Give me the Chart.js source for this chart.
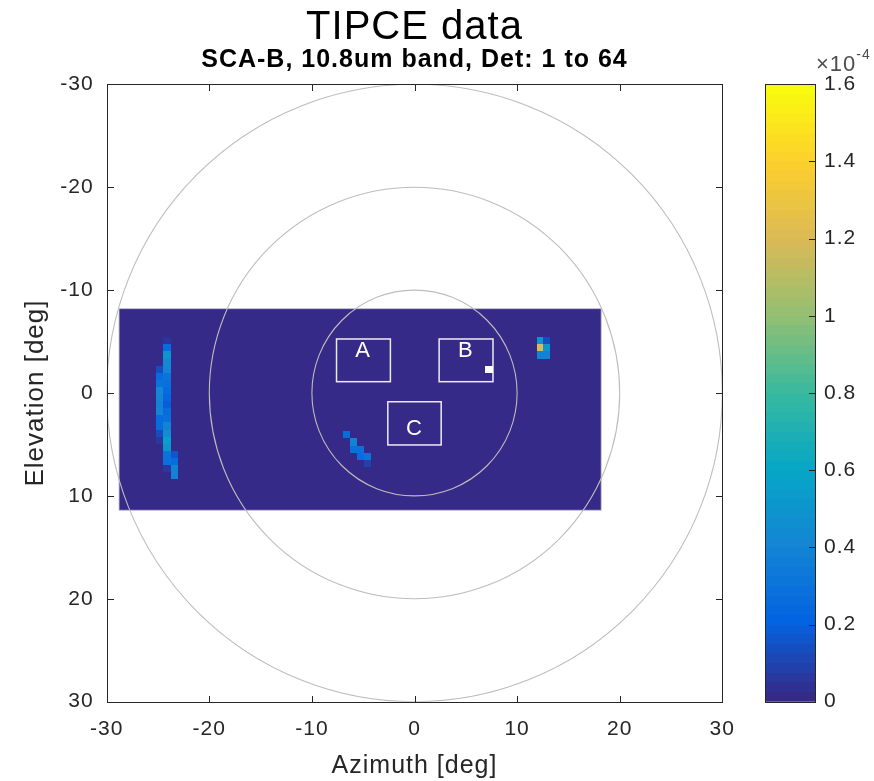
<!DOCTYPE html>
<html>
<head>
<meta charset="utf-8">
<title>TIPCE data</title>
<script src="https://cdn.jsdelivr.net/npm/chart.js@4.4.1/dist/chart.umd.min.js"></script>
<style>
  html, body { margin: 0; padding: 0; background: #fff; }
  #wrap { position: relative; width: 874px; height: 781px; overflow: hidden; }
  #main { position: absolute; left: 0; top: 0; }
  #bar { position: absolute; left: 740px; top: 0; }
</style>
</head>
<body>
<div id="wrap">
  <canvas id="main" width="874" height="781"></canvas>
  <canvas id="bar" width="134" height="781"></canvas>
</div>
<script>
// axis ticks in degrees
const axisTicks = [-30, -20, -10, 0, 10, 20, 30];

// colour scale, units of 1e-4
const colorMin = 0;
const colorMax = 1.6;
const colorTicks = [0, 0.2, 0.4, 0.6, 0.8, 1, 1.2, 1.4, 1.6];

// detector field of view (deg)
const fovAz = [-28.8, 18.2];
const fovEl = [-8.2, 11.4];
const cellSize = 0.69;

// non-zero cells: azimuth, elevation, value (x1e-4)
const cellAz = [
  // streak, left column
  -24.81, -24.81, -24.81, -24.81, -24.81, -24.81, -24.81, -24.81, -24.81, -24.81, -24.81,
  // streak, middle column
  -24.12, -24.12, -24.12, -24.12, -24.12, -24.12, -24.12, -24.12, -24.12, -24.12,
  -24.12, -24.12, -24.12, -24.12, -24.12, -24.12, -24.12, -24.12, -24.12,
  // streak, right column
  -23.43, -23.43, -23.43, -23.43,
  // diagonal near centre
  -6.63, -5.94, -5.94, -5.25, -5.25, -4.56, -4.56,
  // hot spot top right
  12.25, 12.9, 12.25, 12.9, 12.25, 12.9
];
const cellEl = [
  -2.31, -1.62, -0.93, -0.24, 0.45, 1.14, 1.83, 2.52, 3.21, 3.90, 4.59,
  -5.07, -4.38, -3.69, -3.00, -2.31, -1.62, -0.93, -0.24, 0.45, 1.14,
  1.83, 2.52, 3.21, 3.90, 4.59, 5.28, 5.97, 6.66, 7.35,
  5.97, 6.66, 7.35, 8.04,
  4.05, 4.76, 5.47, 5.47, 6.17, 6.17, 6.83,
  -5.07, -5.07, -4.38, -4.38, -3.69, -3.69
];
const cellVal = [
  0.12, 0.25, 0.30, 0.42, 0.40, 0.38, 0.40, 0.25, 0.25, 0.12, 0.05,
  0.04, 0.25, 0.50, 0.42, 0.40, 0.30, 0.28, 0.25, 0.22, 0.18,
  0.25, 0.28, 0.38, 0.45, 0.55, 0.50, 0.30, 0.28, 0.05,
  0.15, 0.25, 0.38, 0.38,
  0.25, 0.38, 0.28, 0.28, 0.25, 0.30, 0.08,
  0.50, 0.12, 1.20, 0.50, 0.38, 0.38
];

// masked (white) pixel
const maskAz = [7.26];
const maskEl = [-2.26];

// reference rings (deg)
const ringRadii = [10, 20, 30];

// labelled boxes
const boxNames = ['A', 'B', 'C'];
const boxAz0 = [-7.6, 2.4, -2.6];
const boxAz1 = [-2.35, 7.65, 2.6];
const boxEl0 = [-5.25, -5.25, 0.85];
const boxEl1 = [-1.1, -1.1, 5.05];
const labelAz = [-5.0, 5.0, 0.0];
const labelEl = [-4.1, -4.1, 3.5];

const parulaStops = ['#352a87', '#0363e1', '#1485d4', '#06a7c6', '#38b99e',
  '#92bf73', '#d9ba56', '#fcce2e', '#f9fb0e'];

function hexRgb(h) {
  return [parseInt(h.substr(1, 2), 16), parseInt(h.substr(3, 2), 16), parseInt(h.substr(5, 2), 16)];
}

function parula(t) {
  t = Math.max(0, Math.min(1, t));
  const p = t * (parulaStops.length - 1);
  const i = Math.min(Math.floor(p), parulaStops.length - 2);
  const f = p - i;
  const a = hexRgb(parulaStops[i]), b = hexRgb(parulaStops[i + 1]);
  const c = a.map((v, k) => Math.round(v + (b[k] - v) * f));
  return `rgb(${c[0]}, ${c[1]}, ${c[2]})`;
}

function valueColor(v) {
  return parula((v - colorMin) / (colorMax - colorMin));
}

Chart.defaults.font.family = "'Liberation Sans', Arial, Helvetica, sans-serif";
Chart.defaults.color = '#262626';

const axisColor = '#262626';

// matlab text is a little wider than Liberation Sans
const spacingPlugin = {
  id: 'spacing',
  beforeDraw(chart) { chart.ctx.letterSpacing = '1px'; },
  afterDraw(chart) { chart.ctx.letterSpacing = '0px'; }
};

// draws the image cells, boxes, rings and the axes box
const fieldPlugin = {
  id: 'field',
  beforeDatasetsDraw(chart) {
    const {ctx, chartArea: a, scales: {x, y}} = chart;
    ctx.save();
    ctx.beginPath();
    ctx.rect(a.left, a.top, a.width, a.height);
    ctx.clip();

    const fx0 = x.getPixelForValue(fovAz[0]), fx1 = x.getPixelForValue(fovAz[1]);
    const fy0 = y.getPixelForValue(fovEl[0]), fy1 = y.getPixelForValue(fovEl[1]);
    ctx.fillStyle = valueColor(0);
    ctx.fillRect(fx0, fy0, fx1 - fx0, fy1 - fy0);
    ctx.strokeStyle = 'rgba(200, 200, 210, 0.9)';
    ctx.lineWidth = 1;
    ctx.strokeRect(fx0, fy0, fx1 - fx0, fy1 - fy0);

    const w = Math.abs(x.getPixelForValue(cellSize) - x.getPixelForValue(0));
    const h = Math.abs(y.getPixelForValue(cellSize) - y.getPixelForValue(0));
    chart.data.datasets.forEach((ds, i) => {
      const meta = chart.getDatasetMeta(i);
      meta.data.forEach((pt, j) => {
        const x0 = Math.round(pt.x - w / 2), x1 = Math.round(pt.x + w / 2);
        const y0 = Math.round(pt.y - h / 2), y1 = Math.round(pt.y + h / 2);
        ctx.fillStyle = ds.cellColors[j];
        ctx.fillRect(x0, y0, x1 - x0, y1 - y0);
      });
    });
    ctx.restore();
  },
  afterDatasetsDraw(chart) {
    const {ctx, chartArea: a, scales: {x, y}} = chart;
    ctx.save();
    ctx.beginPath();
    ctx.rect(a.left, a.top, a.width, a.height);
    ctx.clip();

    // boxes A, B, C
    ctx.strokeStyle = 'rgba(245, 245, 250, 0.95)';
    ctx.lineWidth = 1.5;
    ctx.fillStyle = '#ffffff';
    ctx.font = "22px 'Liberation Sans', Arial, sans-serif";
    ctx.textAlign = 'center';
    ctx.textBaseline = 'middle';
    boxNames.forEach((name, i) => {
      const bx0 = x.getPixelForValue(boxAz0[i]), bx1 = x.getPixelForValue(boxAz1[i]);
      const by0 = y.getPixelForValue(boxEl0[i]), by1 = y.getPixelForValue(boxEl1[i]);
      ctx.strokeRect(bx0, by0, bx1 - bx0, by1 - by0);
      ctx.fillText(name, x.getPixelForValue(labelAz[i]), y.getPixelForValue(labelEl[i]));
    });

    // rings
    const cx = x.getPixelForValue(0), cy = y.getPixelForValue(0);
    ctx.strokeStyle = '#bdbdbd';
    ctx.lineWidth = 1.1;
    ringRadii.forEach(r => {
      const rx = Math.abs(x.getPixelForValue(r) - cx);
      const ry = Math.abs(y.getPixelForValue(r) - cy);
      ctx.beginPath();
      ctx.ellipse(cx, cy, rx, ry, 0, 0, Math.PI * 2);
      ctx.stroke();
    });
    ctx.restore();

    // axes box with inward ticks
    ctx.save();
    ctx.strokeStyle = axisColor;
    ctx.lineWidth = 1;
    const L = Math.round(a.left) + 0.5, R = Math.round(a.right) + 0.5;
    const T = Math.round(a.top) + 0.5, B = Math.round(a.bottom) + 0.5;
    ctx.strokeRect(L, T, R - L, B - T);
    const tl = 6.5;
    ctx.beginPath();
    axisTicks.forEach(v => {
      const px = Math.round(x.getPixelForValue(v)) + 0.5;
      ctx.moveTo(px, B); ctx.lineTo(px, B - tl);
      ctx.moveTo(px, T); ctx.lineTo(px, T + tl);
      const py = Math.round(y.getPixelForValue(v)) + 0.5;
      ctx.moveTo(L, py); ctx.lineTo(L + tl, py);
      ctx.moveTo(R, py); ctx.lineTo(R - tl, py);
    });
    ctx.stroke();
    ctx.restore();
  }
};

const fixedTicks = list => scale => { scale.ticks = list.map(v => ({value: v})); };

new Chart(document.getElementById('main'), {
  type: 'scatter',
  data: {
    datasets: [
      {
        label: 'cells',
        data: cellAz.map((az, i) => ({x: az, y: cellEl[i]})),
        cellColors: cellVal.map(valueColor),
        pointRadius: 0
      },
      {
        label: 'mask',
        data: maskAz.map((az, i) => ({x: az, y: maskEl[i]})),
        cellColors: maskAz.map(() => '#ffffff'),
        pointRadius: 0
      }
    ]
  },
  options: {
    responsive: false,
    animation: false,
    events: [],
    layout: { padding: { left: 0, right: 151.7, top: 0, bottom: 0 } },
    scales: {
      x: {
        type: 'linear',
        min: -30,
        max: 30,
        afterBuildTicks: fixedTicks(axisTicks),
        ticks: { font: { size: 21 }, color: axisColor, padding: 15, maxRotation: 0 },
        grid: { display: false, drawTicks: false },
        border: { display: false },
        title: { display: true, text: 'Azimuth [deg]', font: { size: 25 }, color: axisColor, padding: { top: 0, bottom: 0 } },
        afterFit: s => { s.height = 79.3; }
      },
      y: {
        type: 'linear',
        reverse: true,
        min: -30,
        max: 30,
        afterBuildTicks: fixedTicks(axisTicks),
        ticks: { font: { size: 21 }, color: axisColor, padding: 13 },
        grid: { display: false, drawTicks: false },
        border: { display: false },
        title: { display: true, text: 'Elevation [deg]', font: { size: 26 }, color: axisColor, padding: { top: 20, bottom: 0 } },
        afterFit: s => { s.width = 106.7; }
      }
    },
    plugins: {
      legend: { display: false },
      tooltip: { enabled: false },
      title: {
        display: true,
        text: 'TIPCE data',
        fullSize: false,
        color: '#000',
        font: { size: 40, weight: 'normal', lineHeight: 1 },
        padding: { top: 8, bottom: 0 }
      },
      subtitle: {
        display: true,
        text: 'SCA-B, 10.8um band, Det: 1 to 64',
        fullSize: false,
        color: '#000',
        font: { size: 25, weight: 'bold', lineHeight: 1 },
        padding: { top: 0, bottom: 11.3 }
      }
    }
  },
  plugins: [spacingPlugin, fieldPlugin]
});

// colour bar
function barGradient(chart) {
  const {ctx, chartArea, scales} = chart;
  if (!chartArea || !scales.y) return valueColor(colorMin);
  const y0 = scales.y.getPixelForValue(colorMin);
  const y1 = scales.y.getPixelForValue(colorMax);
  const g = ctx.createLinearGradient(0, y0, 0, y1);
  const n = 64;
  for (let i = 0; i < n; i++) {
    const c = parula(i / (n - 1));
    g.addColorStop(i / n, c);
    g.addColorStop((i + 1) / n, c);
  }
  return g;
}

const colorbarPlugin = {
  id: 'colorbarFrame',
  afterDatasetsDraw(chart) {
    const {ctx, chartArea: a, scales: {y}} = chart;
    ctx.save();
    ctx.strokeStyle = axisColor;
    ctx.lineWidth = 1;
    const L = Math.round(a.left) + 0.5, R = Math.round(a.right) + 0.5;
    const T = Math.round(a.top) + 0.5, B = Math.round(a.bottom) + 0.5;
    ctx.strokeRect(L, T, R - L, B - T);
    ctx.beginPath();
    colorTicks.forEach(v => {
      const py = Math.round(y.getPixelForValue(v)) + 0.5;
      ctx.moveTo(R, py); ctx.lineTo(R - 6.5, py);
    });
    ctx.stroke();

    // exponent label
    ctx.fillStyle = '#4d4d4d';
    ctx.textBaseline = 'alphabetic';
    ctx.textAlign = 'left';
    ctx.font = "22px 'Liberation Sans', Arial, sans-serif";
    ctx.fillText('\u00d710', 76, 71);
    const wx = ctx.measureText('\u00d710').width;
    ctx.font = "14px 'Liberation Sans', Arial, sans-serif";
    ctx.fillText('-4', 76 + wx, 59);
    ctx.restore();
  }
};

new Chart(document.getElementById('bar'), {
  type: 'bar',
  data: {
    labels: ['scale'],
    datasets: [{
      data: [[colorMin, colorMax]],
      backgroundColor: ctx => barGradient(ctx.chart),
      borderWidth: 0,
      categoryPercentage: 1,
      barPercentage: 1
    }]
  },
  options: {
    responsive: false,
    animation: false,
    events: [],
    layout: { padding: { left: 25, right: 0, top: 84.3, bottom: 79.3 } },
    scales: {
      x: { display: false },
      y: {
        position: 'right',
        min: colorMin,
        max: colorMax,
        afterBuildTicks: fixedTicks(colorTicks),
        ticks: {
          font: { size: 21 },
          color: axisColor,
          padding: 9,
          callback: v => String(Math.round(v * 10) / 10)
        },
        grid: { display: false, drawTicks: false },
        border: { display: false },
        afterFit: s => { s.width = 59; }
      }
    },
    plugins: { legend: { display: false }, tooltip: { enabled: false } }
  },
  plugins: [spacingPlugin, colorbarPlugin]
});
</script>
</body>
</html>
